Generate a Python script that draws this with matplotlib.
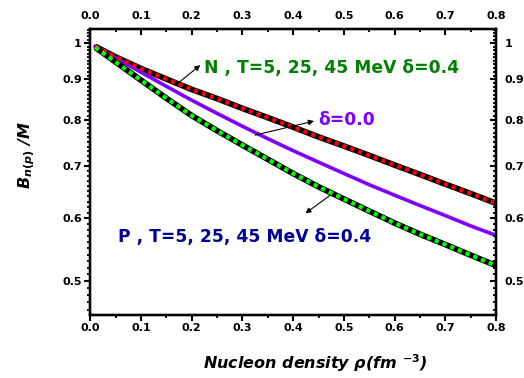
import numpy as np
import matplotlib
matplotlib.use("Agg")
import matplotlib.pyplot as plt
from matplotlib.ticker import FixedLocator, FixedFormatter, NullFormatter

plt.rcParams['font.family'] = ['DejaVu Sans']
plt.rcParams['mathtext.fontset'] = 'custom'
plt.rcParams['mathtext.rm'] = 'DejaVu Sans:bold'
plt.rcParams['mathtext.it'] = 'DejaVu Sans:italic:bold'
plt.rcParams['mathtext.bf'] = 'DejaVu Sans:bold'

rho = [0.01, 0.05, 0.1, 0.15, 0.2, 0.25, 0.3, 0.35, 0.4, 0.45, 0.5,
       0.55, 0.6, 0.65, 0.7, 0.75, 0.8]
neutron = [0.991, 0.961, 0.929, 0.901, 0.874, 0.851, 0.827, 0.805, 0.783,
           0.761, 0.741, 0.721, 0.701, 0.682, 0.663, 0.645, 0.627]
symmetric = [0.991, 0.958, 0.919, 0.882, 0.847, 0.815, 0.785, 0.757, 0.731,
             0.707, 0.684, 0.662, 0.642, 0.623, 0.605, 0.587, 0.571]
proton = [0.988, 0.947, 0.898, 0.852, 0.810, 0.775, 0.743, 0.713, 0.684,
          0.658, 0.635, 0.613, 0.592, 0.573, 0.556, 0.539, 0.523]

y_major = [0.5, 0.6, 0.7, 0.8, 0.9, 1.0]
y_major_labels = ['0.5', '0.6', '0.7', '0.8', '0.9', '1']
x_major = [0.0, 0.1, 0.2, 0.3, 0.4, 0.5, 0.6, 0.7, 0.8]
x_major_labels = ['0.0', '0.1', '0.2', '0.3', '0.4', '0.5', '0.6', '0.7', '0.8']

fig = plt.figure(figsize=(5.24, 3.78), dpi=100)
ax = fig.add_axes([0.172, 0.167, 0.775, 0.756])

ax.plot(rho, neutron, color='black', lw=4.2, solid_capstyle='butt', zorder=3)
ax.plot(rho, neutron, color='#FF0000', lw=3.0, ls=(0, (1, 1)), zorder=4)
ax.plot(rho, symmetric, color='#8000FF', lw=2.6, zorder=3)
ax.plot(rho, proton, color='black', lw=4.2, solid_capstyle='butt', zorder=3)
ax.plot(rho, proton, color='#00FF00', lw=3.0, ls=(0, (1, 1)), zorder=4)

ax.set_yscale('log')
ax.set_xlim(0.0, 0.8)
ax.set_ylim(0.453, 1.042)

def setup_y(a):
    a.yaxis.set_major_locator(FixedLocator(y_major))
    a.yaxis.set_major_formatter(FixedFormatter(y_major_labels))
    a.yaxis.set_minor_locator(FixedLocator(np.round(np.arange(0.46, 1.041, 0.01), 2)))
    a.yaxis.set_minor_formatter(NullFormatter())

def setup_x(a):
    a.xaxis.set_major_locator(FixedLocator(x_major))
    a.xaxis.set_major_formatter(FixedFormatter(x_major_labels))
    a.xaxis.set_minor_locator(FixedLocator(np.arange(0.05, 0.8, 0.1)))

setup_y(ax)
setup_x(ax)
ax.tick_params(axis='both', which='major', direction='out', length=4, width=1.5,
               labelsize=8, pad=2)
ax.tick_params(axis='both', which='minor', direction='out', length=2.2, width=1.3)
for lab in ax.get_xticklabels() + ax.get_yticklabels():
    lab.set_fontweight('bold')

# right axis
axr = ax.twinx()
axr.set_yscale('log')
axr.set_ylim(ax.get_ylim())
setup_y(axr)
axr.tick_params(axis='y', which='major', direction='in', length=4, width=1.5,
                labelsize=8, pad=6)
axr.tick_params(axis='y', which='minor', direction='in', length=2.2, width=1.3)
for lab in axr.get_yticklabels():
    lab.set_fontweight('bold')

# top axis
axt = ax.twiny()
axt.set_xlim(ax.get_xlim())
setup_x(axt)
axt.tick_params(axis='x', which='major', direction='in', length=4.5, width=1.5,
                labelsize=8, pad=6)
axt.tick_params(axis='x', which='minor', direction='in', length=2.2, width=1.3)
for lab in axt.get_xticklabels():
    lab.set_fontweight('bold')

for a in (ax, axr, axt):
    for s in a.spines.values():
        s.set_linewidth(1.6)

ax.set_ylabel(r'B$_{n(p)}$ /M', fontsize=11.5, fontweight='bold', fontstyle='italic')
ax.yaxis.set_label_coords(-0.13, 0.56)
ax.set_xlabel(r'Nucleon density ρ(fm $^{-3}$)', fontsize=11.5, fontweight='bold',
              fontstyle='italic')
ax.xaxis.set_label_coords(0.555, -0.13)

ax.text(0.224, 0.930, 'N , T=5, 25, 45 MeV δ=0.4', color='#008000', fontsize=12.3,
        fontweight='bold', va='center', ha='left', zorder=6)
ax.text(0.449, 0.799, 'δ=0.0', color='#8000FF', fontsize=12.3,
        fontweight='bold', va='center', ha='left', zorder=6)
ax.text(0.055, 0.568, 'P , T=5, 25, 45 MeV δ=0.4', color='#000099', fontsize=12.3,
        fontweight='bold', va='center', ha='left', zorder=6)

arrow = dict(arrowstyle='-|>', color='black', lw=0.8, mutation_scale=8,
             shrinkA=0, shrinkB=0)
ax.annotate('', xy=(0.217, 0.938), xytext=(0.173, 0.890), arrowprops=arrow, zorder=6)
ax.annotate('', xy=(0.441, 0.797), xytext=(0.325, 0.765), arrowprops=arrow, zorder=6)
ax.annotate('', xy=(0.424, 0.609), xytext=(0.473, 0.642), arrowprops=arrow, zorder=6)

fig.savefig('out.png', dpi=100)
